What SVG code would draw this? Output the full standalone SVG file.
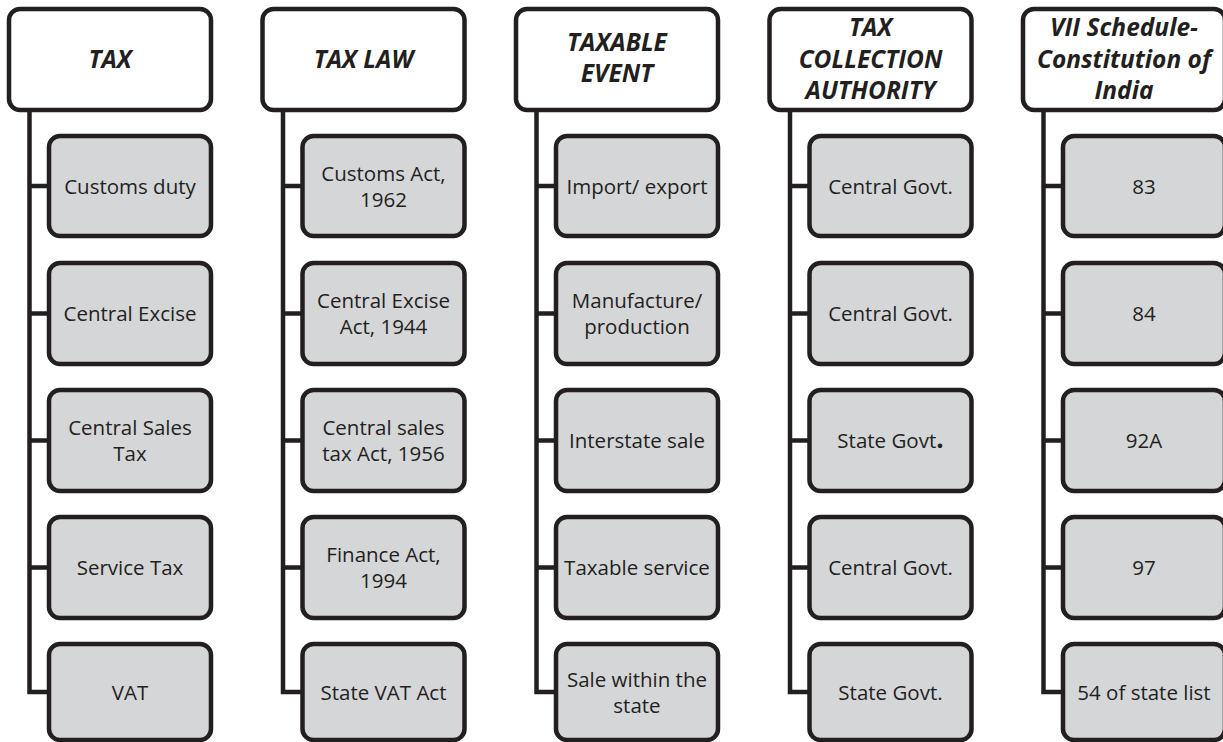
<svg xmlns="http://www.w3.org/2000/svg" width="1223" height="742" viewBox="0 0 1223 742">
<style>
.hdr{fill:#ffffff;stroke:#231f20;stroke-width:4.5}
.box{fill:#d5d6d8;stroke:#231f20;stroke-width:4.5}
.conn{fill:none;stroke:#231f20;stroke-width:4.5;stroke-linejoin:miter}
.ht{font-family:"Open Sans","Liberation Sans",sans-serif;font-weight:bold;font-style:italic;font-size:24.5px;fill:#231f20;text-anchor:middle}
.bt{font-family:"Open Sans","Liberation Sans",sans-serif;font-size:20.5px;fill:#231f20;text-anchor:middle}
</style>
<rect width="1223" height="742" fill="#ffffff"/>
<g id="connectors">
<path class="conn" d="M29.5 110 V692 H49 M29.5 186 H49 M29.5 313.5 H49 M29.5 440.5 H49 M29.5 567.5 H49"/>
<path class="conn" transform="translate(253.5,0)" d="M29.5 110 V692 H49 M29.5 186 H49 M29.5 313.5 H49 M29.5 440.5 H49 M29.5 567.5 H49"/>
<path class="conn" transform="translate(507,0)" d="M29.5 110 V692 H49 M29.5 186 H49 M29.5 313.5 H49 M29.5 440.5 H49 M29.5 567.5 H49"/>
<path class="conn" transform="translate(760.5,0)" d="M29.5 110 V692 H49 M29.5 186 H49 M29.5 313.5 H49 M29.5 440.5 H49 M29.5 567.5 H49"/>
<path class="conn" transform="translate(1014,0)" d="M29.5 110 V692 H49 M29.5 186 H49 M29.5 313.5 H49 M29.5 440.5 H49 M29.5 567.5 H49"/>
</g>

<!-- Column 1 -->
<g id="h1"><rect class="hdr" x="9" y="9" width="202" height="101" rx="11"/><text class="ht" x="110" y="68">TAX</text></g>
<g id="c1r1"><rect class="box" x="49" y="136" width="162" height="100" rx="11"/><text class="bt" x="130" y="194">Customs duty</text></g>
<g id="c1r2"><rect class="box" x="49" y="263" width="162" height="101" rx="11"/><text class="bt" x="130" y="321">Central Excise</text></g>
<g id="c1r3"><rect class="box" x="49" y="390" width="162" height="101" rx="11"/><text class="bt" x="130" y="435">Central Sales</text><text class="bt" x="130" y="461">Tax</text></g>
<g id="c1r4"><rect class="box" x="49" y="517" width="162" height="101" rx="11"/><text class="bt" x="130" y="575">Service Tax</text></g>
<g id="c1r5"><rect class="box" x="49" y="644" width="162" height="96" rx="11"/><text class="bt" x="130" y="700">VAT</text></g>

<!-- Column 2 -->
<g id="h2" transform="translate(253.5,0)"><rect class="hdr" x="9" y="9" width="202" height="101" rx="11"/><text class="ht" x="110" y="68">TAX LAW</text></g>
<g id="c2r1" transform="translate(253.5,0)"><rect class="box" x="49" y="136" width="162" height="100" rx="11"/><text class="bt" x="130" y="181">Customs Act,</text><text class="bt" x="130" y="207">1962</text></g>
<g id="c2r2" transform="translate(253.5,0)"><rect class="box" x="49" y="263" width="162" height="101" rx="11"/><text class="bt" x="130" y="308">Central Excise</text><text class="bt" x="130" y="334">Act, 1944</text></g>
<g id="c2r3" transform="translate(253.5,0)"><rect class="box" x="49" y="390" width="162" height="101" rx="11"/><text class="bt" x="130" y="435">Central sales</text><text class="bt" x="130" y="461">tax Act, 1956</text></g>
<g id="c2r4" transform="translate(253.5,0)"><rect class="box" x="49" y="517" width="162" height="101" rx="11"/><text class="bt" x="130" y="562">Finance Act,</text><text class="bt" x="130" y="588">1994</text></g>
<g id="c2r5" transform="translate(253.5,0)"><rect class="box" x="49" y="644" width="162" height="96" rx="11"/><text class="bt" x="130" y="700">State VAT Act</text></g>

<!-- Column 3 -->
<g id="h3" transform="translate(507,0)"><rect class="hdr" x="9" y="9" width="202" height="101" rx="11"/><text class="ht" x="110" y="51">TAXABLE</text><text class="ht" x="110" y="82">EVENT</text></g>
<g id="c3r1" transform="translate(507,0)"><rect class="box" x="49" y="136" width="162" height="100" rx="11"/><text class="bt" x="130" y="194">Import/ export</text></g>
<g id="c3r2" transform="translate(507,0)"><rect class="box" x="49" y="263" width="162" height="101" rx="11"/><text class="bt" x="130" y="308">Manufacture/</text><text class="bt" x="130" y="334">production</text></g>
<g id="c3r3" transform="translate(507,0)"><rect class="box" x="49" y="390" width="162" height="101" rx="11"/><text class="bt" x="130" y="448">Interstate sale</text></g>
<g id="c3r4" transform="translate(507,0)"><rect class="box" x="49" y="517" width="162" height="101" rx="11"/><text class="bt" x="130" y="575">Taxable service</text></g>
<g id="c3r5" transform="translate(507,0)"><rect class="box" x="49" y="644" width="162" height="96" rx="11"/><text class="bt" x="130" y="687">Sale within the</text><text class="bt" x="130" y="713">state</text></g>

<!-- Column 4 -->
<g id="h4" transform="translate(760.5,0)"><rect class="hdr" x="9" y="9" width="202" height="101" rx="11"/><text class="ht" x="110" y="36">TAX</text><text class="ht" x="110" y="67.5">COLLECTION</text><text class="ht" x="110" y="99">AUTHORITY</text></g>
<g id="c4r1" transform="translate(760.5,0)"><rect class="box" x="49" y="136" width="162" height="100" rx="11"/><text class="bt" x="130" y="194">Central Govt.</text></g>
<g id="c4r2" transform="translate(760.5,0)"><rect class="box" x="49" y="263" width="162" height="101" rx="11"/><text class="bt" x="130" y="321">Central Govt.</text></g>
<g id="c4r3" transform="translate(760.5,0)"><rect class="box" x="49" y="390" width="162" height="101" rx="11"/><text class="bt" x="130" y="448">State Govt<tspan font-weight="bold" font-size="26px">.</tspan></text></g>
<g id="c4r4" transform="translate(760.5,0)"><rect class="box" x="49" y="517" width="162" height="101" rx="11"/><text class="bt" x="130" y="575">Central Govt.</text></g>
<g id="c4r5" transform="translate(760.5,0)"><rect class="box" x="49" y="644" width="162" height="96" rx="11"/><text class="bt" x="130" y="700">State Govt.</text></g>

<!-- Column 5 -->
<g id="h5" transform="translate(1014,0)"><rect class="hdr" x="9" y="9" width="202" height="101" rx="11"/><text class="ht" x="110" y="36">VII Schedule-</text><text class="ht" x="110" y="67.5">Constitution of</text><text class="ht" x="110" y="99">India</text></g>
<g id="c5r1" transform="translate(1014,0)"><rect class="box" x="49" y="136" width="162" height="100" rx="11"/><text class="bt" x="130" y="194">83</text></g>
<g id="c5r2" transform="translate(1014,0)"><rect class="box" x="49" y="263" width="162" height="101" rx="11"/><text class="bt" x="130" y="321">84</text></g>
<g id="c5r3" transform="translate(1014,0)"><rect class="box" x="49" y="390" width="162" height="101" rx="11"/><text class="bt" x="130" y="448">92A</text></g>
<g id="c5r4" transform="translate(1014,0)"><rect class="box" x="49" y="517" width="162" height="101" rx="11"/><text class="bt" x="130" y="575">97</text></g>
<g id="c5r5" transform="translate(1014,0)"><rect class="box" x="49" y="644" width="162" height="96" rx="11"/><text class="bt" x="130" y="700">54 of state list</text></g>
</svg>
